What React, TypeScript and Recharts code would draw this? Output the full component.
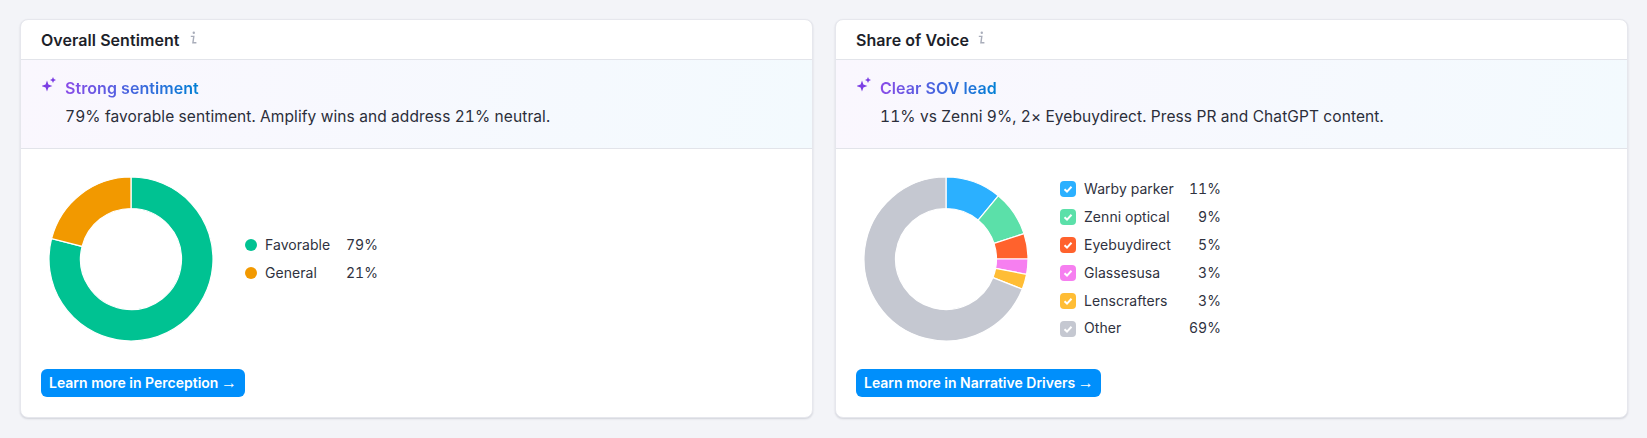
import { Cell, Pie, PieChart } from 'recharts'

const sentimentNames = ['Favorable', 'General']
const sentimentValues = [79, 21]
const sentimentColors = ['#00c292', '#f29900']

const sovNames = ['Warby parker', 'Zenni optical', 'Eyebuydirect', 'Glassesusa', 'Lenscrafters', 'Other']
const sovValues = [11, 9, 5, 3, 3, 69]
const sovColors = ['#2bb0ff', '#5be0a9', '#ff622d', '#f67ff0', '#ffbd35', '#c5c8d1']

const FONT = 'Inter, "Noto Sans", sans-serif'

const toRows = (names: string[], values: number[]) =>
  names.map((name, i) => ({ name, value: values[i] }))

function Donut({ names, values, colors, left }: { names: string[]; values: number[]; colors: string[]; left: number }) {
  return (
    <div style={{ position: 'absolute', left, top: 169 }}>
      <PieChart width={180} height={180} margin={{ top: 0, right: 0, bottom: 0, left: 0 }}>
        <Pie
          data={toRows(names, values)}
          dataKey="value"
          nameKey="name"
          cx={90}
          cy={90}
          innerRadius={50.5}
          outerRadius={82}
          startAngle={90}
          endAngle={-270}
          stroke="#ffffff"
          strokeWidth={1.2}
          isAnimationActive={false}
        >
          {names.map((name, i) => (
            <Cell key={name} fill={colors[i]} />
          ))}
        </Pie>
      </PieChart>
    </div>
  )
}

function Sparkle({ left, top }: { left: number; top: number }) {
  return (
    <svg style={{ position: 'absolute', left, top }} width="15" height="15" viewBox="0 0 15 15">
      <path d="M5 3.6 L6.4 7.6 L10.4 9 L6.4 10.4 L5 14.4 L3.6 10.4 L-0.4 9 L3.6 7.6 Z" fill="#7c3fe4" />
      <path d="M11 0 L11.9 2.1 L14 3 L11.9 3.9 L11 6 L10.1 3.9 L8 3 L10.1 2.1 Z" fill="#7c3fe4" />
    </svg>
  )
}

function InfoIcon({ left }: { left: number }) {
  return (
    <svg style={{ position: 'absolute', left, top: 30.5 }} width="9" height="14" viewBox="0 0 9 14">
      <circle cx="4.8" cy="1.8" r="1.2" fill="#a9adba" />
      <path d="M1.8 5.4 H4.8 L3.9 11.8 H7.4" fill="none" stroke="#a9adba" strokeWidth="1.4" />
    </svg>
  )
}

function Card({ left, width, title, infoLeft, headline, body, button, buttonWidth, children }: any) {
  const textLeft = left + 1
  return (
    <>
      <div
        style={{
          position: 'absolute',
          left,
          top: 19,
          width,
          height: 399,
          boxSizing: 'border-box',
          background: '#fff',
          border: '1px solid #e6e7ed',
          borderRadius: 8,
          boxShadow: '0 1px 2px rgba(30,35,60,0.16)',
          overflow: 'hidden',
        }}
      >
        <div
          style={{
            position: 'absolute',
            left: 0,
            top: 39,
            right: 0,
            height: 90,
            boxSizing: 'border-box',
            borderTop: '1px solid #e2e4ea',
            borderBottom: '1px solid #e2e4ea',
            background: 'linear-gradient(100deg, #faf7fe, #f3fafe)',
          }}
        />
      </div>
      <div style={{ position: 'absolute', left: textLeft + 20, top: 30, fontSize: 16, lineHeight: '20px', fontWeight: 600, letterSpacing: 0.06, color: '#1d1f2a' }}>
        {title}
      </div>
      <InfoIcon left={infoLeft} />
      <Sparkle left={textLeft + 21} top={77} />
      <div
        style={{
          position: 'absolute',
          left: textLeft + 44,
          top: 78,
          fontSize: 16,
          lineHeight: '21px',
          fontWeight: 600,
          letterSpacing: 0.06,
          background: 'linear-gradient(90deg, #8a4be8, #0080d4)',
          WebkitBackgroundClip: 'text',
          backgroundClip: 'text',
          color: 'transparent',
        }}
      >
        {headline}
      </div>
      <div
        style={{
          position: 'absolute',
          left: textLeft + 44,
          top: 106,
          fontSize: 15.5,
          letterSpacing: 0.1,
          lineHeight: '21px',
          color: '#2b2e3a',
          fontVariantNumeric: 'tabular-nums',
          whiteSpace: 'nowrap',
        }}
      >
        {body}
      </div>
      {children}
      <div
        style={{
          position: 'absolute',
          left: textLeft + 20,
          top: 369,
          width: buttonWidth,
          height: 28,
          background: '#008ffb',
          borderRadius: 6,
          color: '#fff',
          fontSize: 14,
          fontWeight: 600,
          lineHeight: '28px',
          paddingLeft: 8,
          boxSizing: 'border-box',
          whiteSpace: 'nowrap',
        }}
      >
        {button} <span style={{ fontFamily: '"Liberation Sans"', fontSize: 16, fontWeight: 400, marginLeft: -1 }}>→</span>
      </div>
    </>
  )
}

const labelStyle = {
  position: 'absolute',
  fontSize: 14,
  lineHeight: '20px',
  color: '#2f3240',
  fontVariantNumeric: 'tabular-nums',
  letterSpacing: 0.05,
  whiteSpace: 'nowrap',
} as const

export default function App() {
  return (
    <div style={{ position: 'fixed', left: 0, top: 0, width: 1647, height: 438, background: '#f3f4f8', fontFamily: FONT, overflow: 'hidden' }}>
      <Card
        left={20}
        width={793}
        title="Overall Sentiment"
        infoLeft={188.5}
        headline="Strong sentiment"
        body="79% favorable sentiment. Amplify wins and address 21% neutral."
        button="Learn more in Perception"
        buttonWidth={204}
      >
        <Donut names={sentimentNames} values={sentimentValues} colors={sentimentColors} left={41} />
        {sentimentNames.map((name, i) => (
          <div key={name}>
            <div style={{ position: 'absolute', left: 245, top: 239 + i * 28, width: 12, height: 12, borderRadius: 6, background: sentimentColors[i] }} />
            <div style={{ ...labelStyle, left: 265, top: 235 + i * 28 }}>{name}</div>
            <div style={{ ...labelStyle, left: 338, width: 40, textAlign: 'right', top: 235 + i * 28 }}>{sentimentValues[i]}%</div>
          </div>
        ))}
      </Card>
      <Card
        left={835}
        width={793}
        title="Share of Voice"
        infoLeft={976.5}
        headline="Clear SOV lead"
        body="11% vs Zenni 9%, 2× Eyebuydirect. Press PR and ChatGPT content."
        button="Learn more in Narrative Drivers"
        buttonWidth={245}
      >
        <Donut names={sovNames} values={sovValues} colors={sovColors} left={856} />
        {sovNames.map((name, i) => (
          <div key={name}>
            <svg style={{ position: 'absolute', left: 1060, top: 181 + i * 28 }} width="16" height="16" viewBox="0 0 16 16">
              <rect width="16" height="16" rx="4" fill={sovColors[i]} />
              <path d="M4.5 8.3 L7 10.6 L11.5 5.8" fill="none" stroke="#fff" strokeWidth="2" />
            </svg>
            <div style={{ ...labelStyle, left: 1084, top: 179.3 + i * 27.8 }}>{name}</div>
            <div style={{ ...labelStyle, left: 1181, width: 40, textAlign: 'right', top: 179.3 + i * 27.8 }}>{sovValues[i]}%</div>
          </div>
        ))}
      </Card>
    </div>
  )
}
